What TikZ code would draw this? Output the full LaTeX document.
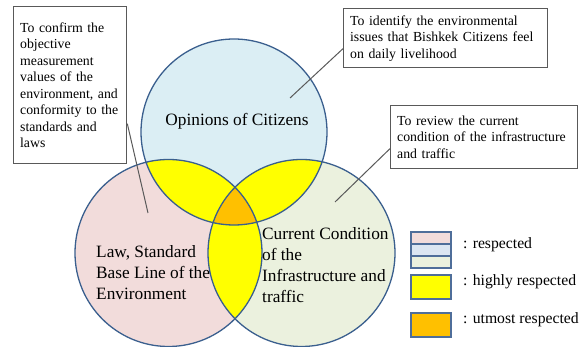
\documentclass[tikz,border=0pt]{standalone}
\usepackage{fontspec}
\setmainfont{Liberation Serif}
\usepackage{tikz}
\usetikzlibrary{
    positioning,           % Relative positioning
    calc                   % Coordinate calculations
}

\definecolor{lawfill}{HTML}{F2DCDB}
\definecolor{citfill}{HTML}{DBEEF4}
\definecolor{infrafill}{HTML}{EBF1DE}
\definecolor{keyblue}{HTML}{DCE6F2}
\definecolor{rim}{HTML}{3A5F8E}
\definecolor{boxline}{HTML}{595959}
\definecolor{keyline}{HTML}{4F6E9A}
\definecolor{hiyellow}{HTML}{FFFF00}
\definecolor{topamber}{HTML}{FFC000}

\begin{document}
\begin{tikzpicture}[x=1pt,y=-1pt,
    note/.style={draw=boxline,line width=1.3pt,fill=white,anchor=north west,
        align=left,inner xsep=6.5pt,inner ysep=0pt,
        font=\fontsize{13.8}{16.5}\selectfont},
    circtext/.style={inner sep=0pt,align=left,font=\fontsize{17.3}{21}\selectfont},
    link/.style={draw=boxline,line width=1pt},
    keybox/.style={draw=keyline,line width=1.5pt,minimum width=40pt,
        inner sep=0pt,outer sep=0pt},
    keytext/.style={anchor=west,inner sep=0pt,yshift=5pt,
        font=\fontsize{15.7}{18}\selectfont}]
    \useasboundingbox (0,0) rectangle (582,347);

    % the three sets
    \coordinate (T) at (234,132);
    \coordinate (L) at (168.5,253);
    \coordinate (R) at (301.5,253);
    \fill[citfill] (T) circle (93);
    \fill[lawfill] (L) circle (93.5);
    \fill[infrafill] (R) circle (93.5);
    % pairwise and triple overlaps
    \begin{scope}
        \clip (T) circle (93);
        \fill[hiyellow] (L) circle (93.5);
        \fill[hiyellow] (R) circle (93.5);
        \clip (L) circle (93.5);
        \fill[topamber] (R) circle (93.5);
    \end{scope}
    \begin{scope}
        \clip (L) circle (93.5);
        \fill[hiyellow] (R) circle (93.5);
        \clip (T) circle (93);
        \fill[topamber] (R) circle (93.5);
    \end{scope}
    \draw[rim,line width=1.3pt] (T) circle (93) (L) circle (93.5) (R) circle (93.5);

    \node[circtext] (opinion) at (237,121) {Opinions of Citizens};
    \node[circtext,anchor=west] (law) at (96,273)
        {Law, Standard\\Base Line of the\\Environment};
    \node[circtext,anchor=west] (infra) at (262,265)
        {Current Condition\\of the\\Infrastructure and\\traffic};

    % callouts
    \node[note,text width=100pt,minimum height=157pt] (confirm) at (13,6)
        {To confirm the\\objective\\measurement\\values of the\\environment, and\\conformity to the\\standards and\\laws};
    \node[note,text width=191pt,minimum height=59pt] (identify) at (343,8)
        {To identify the environmental\\issues that Bishkek Citizens feel\\on daily livelihood};
    \node[note,text width=174pt,minimum height=63pt] (review) at (390,105)
        {To review the current\\condition of the infrastructure\\and traffic};
    \coordinate (p1) at (148,213);
    \coordinate (p2) at (290,98);
    \coordinate (p3) at (335,202);
    \draw[link] ([yshift=-38.5pt]confirm.east) -- (p1);
    \draw[link] ([yshift=-10.5pt]identify.west) -- (p2);
    \draw[link] ([yshift=-11.5pt]review.west) -- (p3);

    % legend
    \node[keybox,fill=lawfill,minimum height=12pt] (k1) at (431,238) {};
    \node[keybox,fill=keyblue,minimum height=12pt,below=0pt of k1] (k2) {};
    \node[keybox,fill=infrafill,minimum height=12pt,below=0pt of k2] (k3) {};
    \node[keybox,fill=hiyellow,minimum height=24pt,below=7pt of k3] (k4) {};
    \node[keybox,fill=topamber,minimum height=24pt,below=14pt of k4] (k5) {};
    \node[keytext,right=12pt of k2] (t1) {: respected};
    \node[keytext,right=12pt of k4] (t2) {: highly respected};
    \node[keytext,right=12pt of k5] (t3) {: utmost respected};
\end{tikzpicture}
\end{document}
